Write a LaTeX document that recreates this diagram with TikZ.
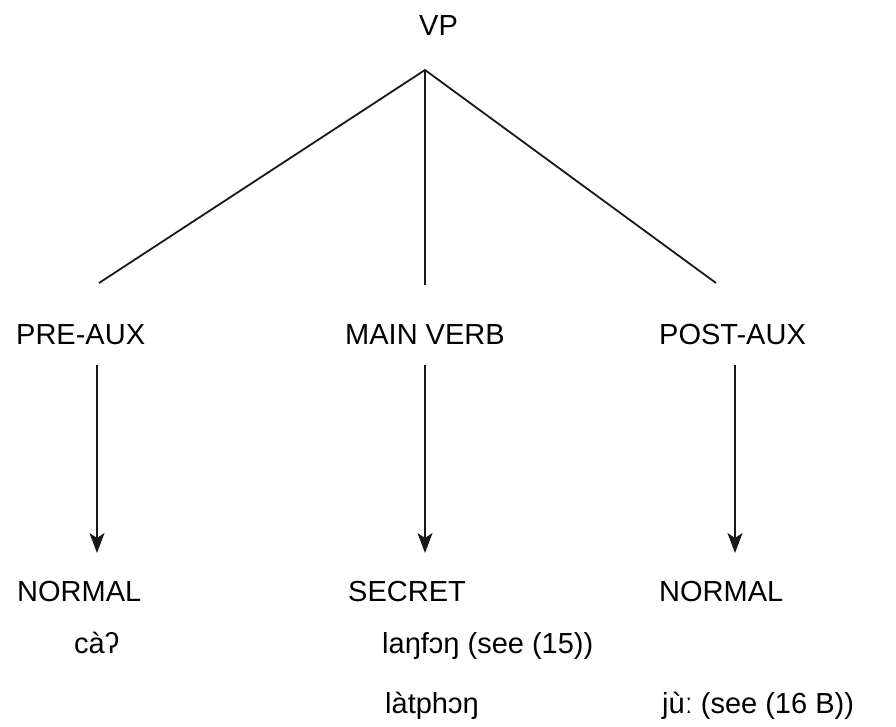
\documentclass[tikz,border=0pt]{standalone}
\usepackage{fontspec}
\setmainfont{Liberation Sans}
\usetikzlibrary{arrows.meta}
\begin{document}
\begin{tikzpicture}[x=1pt,y=-1pt,
  lbl/.style={anchor=base west,inner sep=0pt,font=\fontsize{29}{34}\selectfont},
  branch/.style={line width=1.8pt,black!90},
  derive/.style={line width=1.8pt,black!90,-{Stealth[length=20pt,width=15pt,inset=5pt]}}]
\useasboundingbox (0,0) rectangle (896,726);
% tree labels
\node[lbl] (vp)   at (419,35)  {VP};
\node[lbl] (pre)  at (16,344)  {PRE-AUX};
\node[lbl] (main) at (345,344) {MAIN VERB};
\node[lbl] (post) at (659,344) {POST-AUX};
% register labels
\node[lbl] (regL) at (17,601)  {NORMAL};
\node[lbl] (regM) at (348,601) {SECRET};
\node[lbl] (regR) at (659,601) {NORMAL};
% example forms
\node[lbl] (exL)  at (74,653)  {càʔ};
\node[lbl] (exM1) at (382,653) {laŋfɔŋ (see (15))};
\node[lbl] (exM2) at (385,713) {làtphɔŋ};
\node[lbl] (exR)  at (662,713) {jùː (see (16 B))};
% branch points
\coordinate (apex) at (425,70);
\coordinate (endL) at (99,283);
\coordinate (endM) at (425,285);
\coordinate (endR) at (716,283);
\draw[branch] (endL) -- (apex) -- (endR);
\draw[branch] (apex) -- (endM);
% derivation arrows
\coordinate (aL0) at (97,365);  \coordinate (aL1) at (97,553);
\coordinate (aM0) at (425,365); \coordinate (aM1) at (425,553);
\coordinate (aR0) at (735,365); \coordinate (aR1) at (735,553);
\draw[derive] (aL0) -- (aL1);
\draw[derive] (aM0) -- (aM1);
\draw[derive] (aR0) -- (aR1);
\end{tikzpicture}
\end{document}
